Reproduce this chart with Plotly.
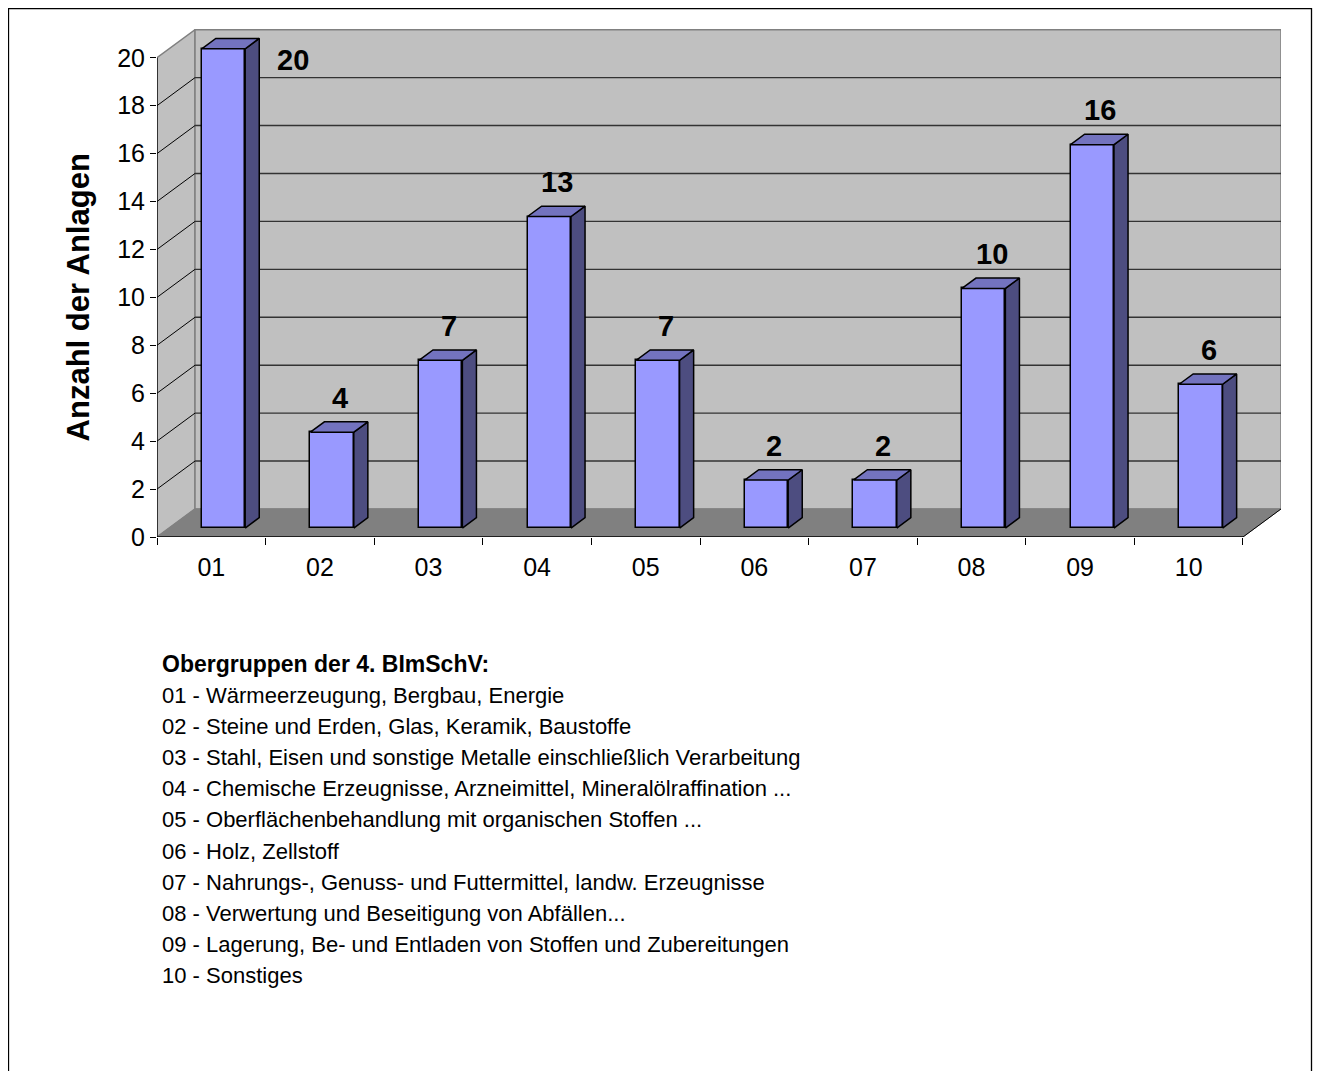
import plotly.graph_objects as go

# data
groups = ["01", "02", "03", "04", "05", "06", "07", "08", "09", "10"]
counts = [20, 4, 7, 13, 7, 2, 2, 10, 16, 6]
y_ticks = [0, 2, 4, 6, 8, 10, 12, 14, 16, 18, 20]
y_title = "Anzahl der Anlagen"
legend_title = "Obergruppen der 4. BImSchV:"
legend_lines = [
    "01 - Wärmeerzeugung, Bergbau, Energie",
    "02 - Steine und Erden, Glas, Keramik, Baustoffe",
    "03 - Stahl, Eisen und sonstige Metalle einschließlich Verarbeitung",
    "04 - Chemische Erzeugnisse, Arzneimittel, Mineralölraffination ...",
    "05 - Oberflächenbehandlung mit organischen Stoffen ...",
    "06 - Holz, Zellstoff",
    "07 - Nahrungs-, Genuss- und Futtermittel, landw. Erzeugnisse",
    "08 - Verwertung und Beseitigung von Abfällen...",
    "09 - Lagerung, Be- und Entladen von Stoffen und Zubereitungen",
    "10 - Sonstiges",
]

FONT = "Liberation Sans, Arial, sans-serif"
# page body has an 8px margin, so the figure is laid out 8px in from the window
W, H = 1305, 1063
L, R, T, B = 149, 32, 21, 534

# fake 3d: depth offset of back wall in axis units
DX, DY = 0.35, 1.17
F0, F1 = 0.32, 0.69  # bar front / back as share of depth
BAR_W = 0.4
YMAX = max(y_ticks)
n = len(groups)
x_lo, x_hi = -0.5, n - 0.5 + DX
y_hi = YMAX + DY + 0.03

WALL = "#c0c0c0"
FLOOR = "#808080"
EDGE = "#808080"
FRONT = "#9999ff"
SIDE = "#4d4d80"
TOP = "#7373bf"


def px_to_paper(px, py):
    # px/py measured in window pixels
    px, py = px - 8, py - 8
    return (px - L) / (W - L - R), (H - B - py) / (H - T - B)


shapes = []
# left wall
shapes.append(dict(type="path", layer="below", fillcolor=WALL, line=dict(color=EDGE, width=1.5),
                   path=f"M{x_lo},0 L{x_lo},{YMAX} L{x_lo + DX},{YMAX + DY} L{x_lo + DX},{DY} Z"))
# back wall
shapes.append(dict(type="rect", layer="below", fillcolor=WALL, line=dict(color=EDGE, width=1.5),
                   x0=x_lo + DX, x1=x_hi, y0=DY, y1=YMAX + DY))
# floor
shapes.append(dict(type="path", layer="below", fillcolor=FLOOR, line=dict(color=EDGE, width=1),
                   path=f"M{x_lo},0 L{n - 0.5},0 L{x_hi},{DY} L{x_lo + DX},{DY} Z"))
# gridlines on the walls
for v in y_ticks[1:-1]:
    shapes.append(dict(type="line", layer="below", x0=x_lo, y0=v, x1=x_lo + DX, y1=v + DY,
                       line=dict(color="black", width=1)))
    shapes.append(dict(type="line", layer="below", x0=x_lo + DX, y0=v + DY, x1=x_hi, y1=v + DY,
                       line=dict(color="#333333", width=1.4)))
# front axis lines
shapes.append(dict(type="line", x0=x_lo, y0=0, x1=x_lo, y1=YMAX, line=dict(color="black", width=1.3)))
shapes.append(dict(type="line", x0=x_lo, y0=0, x1=n - 0.5, y1=0, line=dict(color="black", width=1.3)))
shapes.append(dict(type="line", x0=n - 0.5, y0=0, x1=x_hi, y1=DY, line=dict(color="black", width=1)))

# outer frame (right edge kept just inside the figure so it stays visible)
fx0, fy0 = px_to_paper(8.5, 8.5)
fx1, fy1 = px_to_paper(1311.5, 1095)
shapes.append(dict(type="rect", xref="paper", yref="paper", x0=fx0, y0=fy1, x1=fx1, y1=fy0,
                   line=dict(color="black", width=1.3)))

fig = go.Figure()

xs = list(range(n))
front_off_x = F0 * DX
front_off_y = F0 * DY
ddx = (F1 - F0) * DX
ddy = (F1 - F0) * DY

fig.add_trace(go.Bar(
    x=xs, y=counts, base=[front_off_y] * n,
    width=BAR_W, offset=-BAR_W / 2 + front_off_x,
    marker=dict(color=FRONT, line=dict(color="black", width=1.5)),
    hovertemplate="%{x}: %{y}<extra></extra>", showlegend=False,
))

side_x, side_y, top_x, top_y = [], [], [], []
for i, v in enumerate(counts):
    xl = i - BAR_W / 2 + front_off_x
    xr = xl + BAR_W
    b = front_off_y
    t = v + front_off_y
    side_x += [xr, xr + ddx, xr + ddx, xr, xr, None]
    side_y += [b, b + ddy, t + ddy, t, b, None]
    top_x += [xl, xl + ddx, xr + ddx, xr, xl, None]
    top_y += [t, t + ddy, t + ddy, t, t, None]

fig.add_trace(go.Scatter(x=side_x, y=side_y, fill="toself", fillcolor=SIDE, mode="lines",
                         line=dict(color="black", width=1.5), hoverinfo="skip", showlegend=False))
fig.add_trace(go.Scatter(x=top_x, y=top_y, fill="toself", fillcolor=TOP, mode="lines",
                         line=dict(color="black", width=1.5), hoverinfo="skip", showlegend=False))

annotations = []
for i, v in enumerate(counts):
    xl = i - BAR_W / 2 + front_off_x
    top_back = v + F1 * DY
    if top_back + 1.2 > y_hi:
        # no room above the bar: put the label beside it
        annotations.append(dict(x=xl + BAR_W + ddx, y=v, text=f"<b>{v}</b>", showarrow=False,
                                xanchor="left", yanchor="middle", xshift=16, yshift=-2,
                                font=dict(family=FONT, size=29, color="black")))
    else:
        annotations.append(dict(x=xl + (BAR_W + ddx) / 2, y=top_back, text=f"<b>{v}</b>", showarrow=False,
                                xanchor="center", yanchor="bottom", xshift=1, yshift=6,
                                font=dict(family=FONT, size=29, color="black")))

# y axis title, centred on the front axis (0..20)
tx, _ = px_to_paper(78, 0)
annotations.append(dict(x=tx, y=YMAX / 2, xref="paper", yref="y", text=f"<b>{y_title}</b>",
                        textangle=-90, showarrow=False, xanchor="center", yanchor="middle",
                        font=dict(family=FONT, size=31, color="black")))

# explanation block under the chart
lx, ly = px_to_paper(160, 664)
annotations.append(dict(x=lx, y=ly, xref="paper", yref="paper", text=f"<b>{legend_title}</b>",
                        showarrow=False, xanchor="left", yanchor="middle",
                        font=dict(family=FONT, size=23, color="black")))
for k, line in enumerate(legend_lines):
    lx, ly = px_to_paper(160, 695 + 31.2 * k)
    annotations.append(dict(x=lx, y=ly, xref="paper", yref="paper", text=line,
                            showarrow=False, xanchor="left", yanchor="middle",
                            font=dict(family=FONT, size=22, color="black")))

fig.update_layout(
    width=W, height=H,
    margin=dict(l=L, r=R, t=T, b=B, autoexpand=False),
    paper_bgcolor="white", plot_bgcolor="white",
    font=dict(family=FONT, color="black"),
    xaxis=dict(range=[x_lo, x_hi], tickvals=xs, ticktext=groups, ticks="",
               showgrid=False, zeroline=False, showline=False,
               tickfont=dict(size=25), ticklabelstandoff=13,
               minor=dict(tickvals=[i - 0.5 for i in range(n + 1)], ticks="outside",
                          ticklen=7, tickcolor="black", tickwidth=1.3, showgrid=False)),
    yaxis=dict(range=[0, y_hi], tickvals=y_ticks, ticks="outside", ticklen=6,
               tickcolor="black", tickwidth=1.3, showgrid=False, zeroline=False,
               showline=False, tickfont=dict(size=25)),
    shapes=shapes,
    annotations=annotations,
    bargap=0,
)

fig.write_html("out.html")
